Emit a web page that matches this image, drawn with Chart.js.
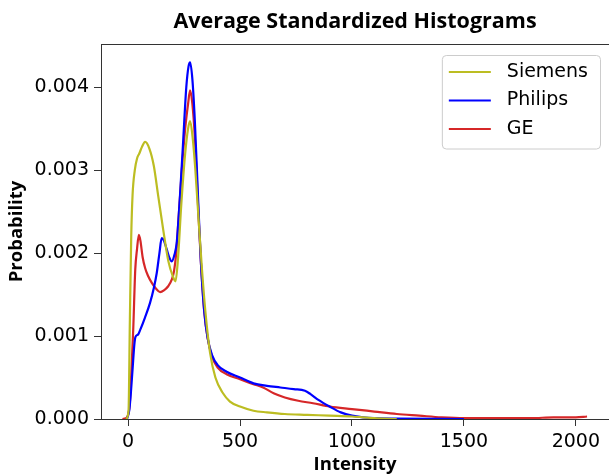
<!DOCTYPE html>
<html lang="en">
<head>
  <meta charset="UTF-8" />
  <title>Average Standardized Histograms</title>
  <script src="https://cdn.jsdelivr.net/npm/chart.js"></script>
  <style>
    html, body { margin: 0; padding: 0; background: #fff; }
    #wrap { width: 609px; height: 474px; }
  </style>
</head>
<body>
  <div id="wrap"><canvas id="histChart"></canvas></div>

  <script>
    // values
    const seriesNames = ['Siemens', 'Philips', 'GE'];
    const xTicks = [0, 500, 1000, 1500, 2000];
    const yTicks = [0, 0.001, 0.002, 0.003, 0.004];

    const siemensX = [-8, 2, 8, 14, 20, 30, 40, 50, 62, 76, 95, 115, 135, 157, 180, 200, 212, 222, 238, 255, 268, 277, 288, 300, 315, 330, 345, 366, 390, 424, 455, 500, 560, 620, 700, 800, 900, 1000, 1100, 1200];
    const siemensY = [0, 0.0001, 0.0012, 0.0022, 0.0027, 0.0030, 0.00314, 0.0032, 0.00328, 0.00334, 0.00326, 0.00305, 0.00268, 0.00228, 0.0019, 0.00172, 0.00166, 0.0019, 0.0026, 0.0032, 0.0035, 0.00359, 0.0034, 0.00302, 0.0024, 0.0018, 0.0013, 0.0008, 0.0005, 0.00031, 0.00021, 0.00015, 0.0001, 0.00008, 0.00006, 0.00005, 0.00004, 0.00003, 0.00001, 0];

    const philipsX = [-5, 5, 12, 20, 28, 33, 45, 55, 75, 98, 115, 128, 140, 150, 160, 172, 185, 195, 207, 217, 232, 245, 260, 270, 277, 287, 298, 312, 325, 340, 355, 375, 400, 440, 500, 560, 620, 680, 740, 790, 815, 850, 900, 950, 1000, 1050, 1100, 1200, 1500];
    const philipsY = [0, 0.0001, 0.0003, 0.0006, 0.0009, 0.00099, 0.00102, 0.00108, 0.00122, 0.0014, 0.00158, 0.00176, 0.002, 0.00218, 0.00215, 0.00205, 0.00194, 0.0019, 0.00198, 0.00212, 0.0027, 0.0033, 0.004, 0.00425, 0.0043, 0.0041, 0.0036, 0.0027, 0.0019, 0.0013, 0.00098, 0.00077, 0.00065, 0.00057, 0.0005, 0.00043, 0.0004, 0.00038, 0.00036, 0.00034, 0.0003, 0.00023, 0.00015, 0.00008, 0.00004, 0.00002, 0.00001, 0.000005, 0];

    const geX = [-25, -10, 0, 8, 15, 23, 32, 40, 48, 55, 65, 76, 90, 106, 125, 143, 160, 179, 195, 205, 215, 225, 240, 255, 268, 277, 287, 298, 312, 325, 340, 355, 375, 400, 440, 500, 560, 603, 650, 700, 760, 826, 902, 1000, 1100, 1200, 1300, 1400, 1500, 1600, 1700, 1800, 1900, 2000, 2050];
    const geY = [0, 0.00001, 0.00005, 0.0002, 0.0006, 0.00108, 0.0018, 0.00205, 0.00222, 0.00215, 0.00195, 0.00182, 0.00172, 0.00164, 0.00157, 0.00153, 0.00155, 0.0016, 0.00168, 0.00178, 0.002, 0.0024, 0.003, 0.0035, 0.0038, 0.00396, 0.0038, 0.0034, 0.0026, 0.0019, 0.0013, 0.00098, 0.00075, 0.00062, 0.00054, 0.00048, 0.00042, 0.00038, 0.00031, 0.00026, 0.00022, 0.00019, 0.00015, 0.00012, 0.00009, 0.00006, 0.00004, 0.00002, 0.00001, 0.00001, 0.00001, 0.00001, 0.00002, 0.00002, 0.00003];

    const seriesColors = ['#bcbd22', '#0000ff', '#d62728'];

    function toPoints(xs, ys) {
      return xs.map((x, i) => ({ x: x, y: ys[i] }));
    }

    const tickFont = { family: 'DejaVu Sans', size: 19 };
    const labelFont = { family: 'Open Sans', size: 18.5, weight: 'bold' };
    const axisColor = '#333333';

    // legend box drawn inside the plot, upper right
    const innerLegend = {
      id: 'innerLegend',
      afterDraw(chart) {
        const ctx = chart.ctx;
        const area = chart.chartArea;
        const sets = chart.data.datasets;
        ctx.save();
        ctx.font = '19px "DejaVu Sans"';
        let maxW = 0;
        sets.forEach(ds => { maxW = Math.max(maxW, ctx.measureText(ds.label).width); });
        const rowH = 28.5;
        const boxW = 7 + 42 + 16 + maxW + 12;
        const boxH = rowH * sets.length + 8;
        const bx = area.right - 9 - boxW;
        const by = area.top + 11;
        ctx.fillStyle = 'rgba(255,255,255,0.85)';
        ctx.strokeStyle = '#cccccc';
        ctx.lineWidth = 1;
        ctx.beginPath();
        ctx.roundRect(bx + 0.5, by + 0.5, boxW, boxH, 4);
        ctx.fill();
        ctx.stroke();
        sets.forEach((ds, i) => {
          const cy = by + 17 + i * rowH;
          ctx.strokeStyle = ds.borderColor;
          ctx.lineWidth = ds.borderWidth;
          ctx.beginPath();
          ctx.moveTo(bx + 7, cy);
          ctx.lineTo(bx + 49, cy);
          ctx.stroke();
          ctx.fillStyle = '#000';
          ctx.textBaseline = 'middle';
          ctx.textAlign = 'left';
          ctx.fillText(ds.label, bx + 65, cy);
        });
        ctx.restore();
      }
    };

    new Chart(document.getElementById('histChart'), {
      type: 'line',
      data: {
        datasets: [
          { label: seriesNames[0], data: toPoints(siemensX, siemensY), borderColor: seriesColors[0] },
          { label: seriesNames[1], data: toPoints(philipsX, philipsY), borderColor: seriesColors[1] },
          { label: seriesNames[2], data: toPoints(geX, geY), borderColor: seriesColors[2] }
        ].map(ds => Object.assign(ds, {
          borderWidth: 2.2,
          pointRadius: 0,
          fill: false,
          cubicInterpolationMode: 'monotone'
        }))
      },
      options: {
        responsive: true,
        maintainAspectRatio: false,
        animation: false,
        layout: { padding: 0 },
        plugins: {
          legend: { display: false },
          title: { display: false },
          tooltip: { enabled: false }
        },
        scales: {
          x: {
            type: 'linear',
            position: 'bottom',
            min: -121,
            max: 2148,
            afterBuildTicks: s => { s.ticks = xTicks.map(v => ({ value: v })); },
            afterFit: s => { s.height = 55; },
            ticks: { font: tickFont, color: '#000', padding: 5, maxRotation: 0, callback: v => String(v) },
            grid: { display: true, drawOnChartArea: false, tickLength: 7, color: axisColor },
            border: { display: true, color: axisColor, width: 1 },
            title: { display: true, text: 'Intensity', font: labelFont, color: '#000', padding: { top: 0, bottom: -2 } }
          },
          xTop: {
            type: 'linear',
            position: 'top',
            min: -121,
            max: 2148,
            afterFit: s => { s.height = 44; },
            ticks: { display: false },
            grid: { display: false },
            border: { display: true, color: axisColor, width: 1 },
            title: { display: true, text: 'Average Standardized Histograms', font: { family: 'Open Sans', size: 21.5, weight: 'bold' }, color: '#000', padding: { top: 9, bottom: 0 } }
          },
          y: {
            type: 'linear',
            position: 'left',
            min: 0,
            max: 0.00452,
            afterBuildTicks: s => { s.ticks = yTicks.map(v => ({ value: v })); },
            afterFit: s => { s.width = 101; },
            ticks: { font: tickFont, color: '#000', padding: 5, callback: v => v.toFixed(3) },
            grid: { display: true, drawOnChartArea: false, tickLength: 7, color: axisColor },
            border: { display: true, color: axisColor, width: 1 },
            title: { display: true, text: 'Probability', font: labelFont, color: '#000', padding: { top: 6, bottom: 0 } }
          }
        }
      },
      plugins: [innerLegend]
    });
  </script>
</body>
</html>
